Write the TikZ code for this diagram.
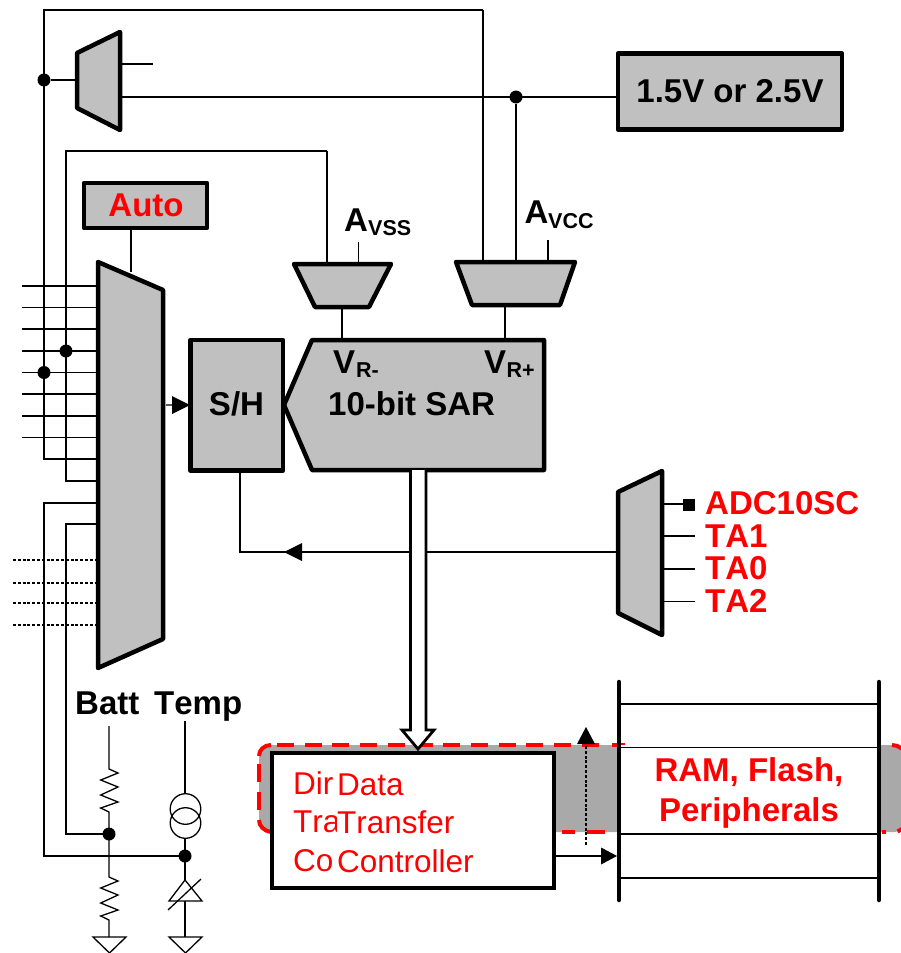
\documentclass[tikz,border=0pt]{standalone}
\usepackage{fontspec}
\setmainfont[Kerning=Off]{Liberation Sans}
\definecolor{blockgray}{HTML}{C0C0C0}
\definecolor{bandgray}{HTML}{A9A9A9}
\definecolor{pure}{HTML}{FF0000}
\tikzset{
  wire/.style={draw=black,line width=1.3pt},
  thick box/.style={draw=black,fill=blockgray,line width=4.5pt,line join=round},
  blockbox/.style={thick box,rectangle,inner sep=0pt,outer sep=0pt},
  junction/.style={circle,fill=black,inner sep=0pt,minimum size=13pt},
  blk/.style={font=\fontsize{33}{33}\selectfont\bfseries,inner sep=0pt,anchor=base west,text=black},
  sub/.style={font=\fontsize{21.5}{21.5}\selectfont\bfseries,inner sep=0pt,anchor=base west,text=black},
  redb/.style={font=\fontsize{33}{33}\selectfont\bfseries,inner sep=0pt,anchor=base west,text=pure},
  redc/.style={font=\fontsize{33}{33}\selectfont\bfseries,inner sep=0pt,anchor=base,text=pure},
  redt/.style={font=\fontsize{31.5}{31.5}\selectfont,inner sep=0pt,anchor=base west,text=pure},
  dots/.style={draw=black,line width=1.3pt,dash pattern=on 3pt off 1.8pt},
  tip/.style={fill=black},
  bar/.style={draw=black,line width=4.5pt,line cap=round},
  redline/.style={draw=pure,line width=4pt}
}
\begin{document}
\begin{tikzpicture}[x=1pt,y=-1pt]
\useasboundingbox (0,0) rectangle (901,953);
\clip (0,0) rectangle (901,953);

% named points
\coordinate (railA) at (44,10);
\coordinate (railAt) at (483,10);
\coordinate (railB) at (66,151);
\coordinate (railBt) at (327,151);

% band
\path[fill=bandgray,rounded corners=15pt] (259,745) rectangle (908,832);
\draw[redline,dash pattern=on 17pt off 10.7pt] (598.7,745) -- (277,745);
\draw[redline] (612,745) -- (625,745);
\draw[redline] (271,745) .. controls (264,745) and (259,750) .. (259,756);
\draw[redline] (259,764) -- (259,782);
\draw[redline] (259,792) -- (259,810);
\draw[redline] (259,820) .. controls (259,826) and (264,831) .. (271,832);
\draw[redline] (562,832) -- (575,832);
\draw[redline] (587,832) -- (605,832);
\fill[white] (619,745) rectangle (879,834);
\draw[redline] (892,745) arc[start angle=90,end angle=50,radius=15pt];
\draw[redline] (882,832) -- (885.5,832);
\draw[redline] (897.5,831.5) -- (902,829);

% rails
\draw[wire] (railAt) -- (railA) -- (44,459) -- (98,459);
\draw[wire] (railBt) -- (railB) -- (66,481) -- (98,481);
\draw[wire] (railAt) -- (483,262);
\draw[wire] (railBt) -- (327,264);

% input lines
\foreach \yy in {286,307.5,329,351,372.5,394,416,437.5}
  \draw[wire] (22,\yy) -- (98,\yy);
\foreach \yy in {560,583,603,625}
  \draw[dots] (13,\yy) -- (95,\yy);

% lower feeds
\draw[wire] (98,503) -- (44,503) -- (44,856) -- (185,856);
\draw[wire] (98,524) -- (66,524) -- (66,834) -- (109,834);

% top amp
\coordinate (ampIn) at (77,80);
\draw[thick box] (77,53) -- (120,32) -- (120,130) -- (77,108) -- cycle;
\node[junction] (dotTop) at (44,80) {};
\draw[wire] (dotTop) -- (ampIn);
\coordinate (stubEnd) at (153,64);
\draw[wire] (122,64) -- (stubEnd);

% reference box
\node[blockbox,minimum width=224pt,minimum height=76pt] (ref) at (730,91.5) {};
\node[font=\fontsize{33}{33}\selectfont\bfseries,inner sep=0pt] (reftxt) at (730,91) {1.5V or 2.5V};
\draw[wire] (122,97) -- (ref.west |- 0,97);
\node[junction] (dotRef) at (516,97) {};
\draw[wire] (dotRef) -- (516,262);

% auto
\node[blockbox,minimum width=123pt,minimum height=45pt] (auto) at (145.5,205.5) {};
\node[redb,anchor=base] (autotxt) at (146,216) {Auto};
\draw[wire] (131,228) -- (131,272);

% big mux
\draw[thick box] (98,262) -- (163,290) -- (163,639) -- (98,668) -- cycle;
\node[junction] (dotB) at (66,351) {};
\node[junction] (dotA) at (44,372.5) {};

% S/H
\node[blockbox,minimum width=92.5pt,minimum height=130.5pt] (sh) at (236.8,405.2) {};
\node[font=\fontsize{33}{33}\selectfont\bfseries,inner sep=0pt] (shtxt) at (236.5,404) {S/H};
\draw[wire] (166,405) -- (sh.west);
\fill[tip] (172,396) -- (190,405) -- (172,414) -- cycle;

% trigger line
\coordinate (trigCorner) at (240,552);
\draw[wire] (240,470) -- (trigCorner) -- (618,552);
\fill[tip] (284,552) -- (302,543) -- (302,561) -- cycle;

% SAR
\draw[thick box] (284,405) -- (312,340) -- (544,340) -- (544,470) -- (312,470) -- cycle;
\node[blk] (vrm) at (333,373) {V};
\node[sub] (vrms) at (356,377) {R-};
\node[blk] (vrp) at (484,373) {V};
\node[sub] (vrps) at (506.5,377) {R+};
\node[blk] (sar) at (328,415) {10-bit SAR};

% vss mux
\draw[thick box] (294,264) -- (391,264) -- (369,307) -- (315,307) -- cycle;
\draw[wire] (358.5,242) -- (358.5,264);
\draw[wire] (342,307) -- (342,340);
\node[blk] (avss) at (344,231) {A};
\node[sub] (avsss) at (368,235) {VSS};

% vcc mux
\draw[thick box] (456,262) -- (575,262) -- (560,305) -- (472,305) -- cycle;
\draw[wire] (548,240) -- (548,262);
\draw[wire] (505,305) -- (505,340);
\node[blk] (avcc) at (524.5,223) {A};
\node[sub] (avccs) at (548,228) {VCC};

% right mux
\draw[thick box] (618,492) -- (662,471) -- (662,635) -- (618,613) -- cycle;
\draw[wire] (664,504) -- (684,504);
\fill[black] (683,498.5) rectangle (695,510.5);
\foreach \yy in {536,569,601.5}
  \draw[wire] (664,\yy) -- (695,\yy);
\node[redb] (adc) at (705,514) {ADC10SC};
\node[redb] (ta1) at (705,547) {TA1};
\node[redb] (ta0) at (705,579) {TA0};
\node[redb] (ta2) at (705,612) {TA2};

% bus arrow
\draw[draw=black,fill=white,line width=2.8pt,line join=miter]
  (410.5,470) -- (410.5,730) -- (402,730) -- (418,749) -- (434,730) -- (426,730) -- (426,470);

% controller
\node[draw=black,fill=white,line width=4.5pt,minimum width=282pt,minimum height=135pt,inner sep=0pt,outer sep=0pt] (ctrl) at (413,820.5) {};
\begin{scope}
\clip (285,760) rectangle (336,885);
\node[redt] (d1) at (293,794) {Dir};
\node[redt] (d2) at (293,832) {Tra};
\node[redt] (d3) at (293,871) {Co};
\end{scope}
\node[redt] (d4) at (337,795) {Data};
\node[redt] (d5) at (337,833) {Transfer};
\node[redt] (d6) at (337,872) {Controller};

% dotted arrow
\draw[dots] (586,845) -- (586,740);
\fill[tip] (586,727) -- (595,744) -- (577,744) -- cycle;

% memory
\coordinate (barLt) at (619,682);
\coordinate (barLb) at (619,900);
\coordinate (barRt) at (879,682);
\coordinate (barRb) at (879,900);
\foreach \yy in {704,747.5,834,878}
  \draw[wire] (619,\yy) -- (879,\yy);
\draw[bar] (barLt) -- (barLb);
\draw[bar] (barRt) -- (barRb);
\draw[wire] (ctrl.east |- 0,856) -- (610,856);
\fill[tip] (601,847.5) -- (617,856) -- (601,864.5) -- cycle;
\node[redc] (ram) at (749,781) {RAM, Flash,};
\node[redc] (per) at (749,821) {Peripherals};

% batt
\node[blk] (batt) at (75,714) {Batt};
\node[blk] (temp) at (154,714) {Temp};
\coordinate (battTop) at (109,726);
\coordinate (r1a) at (109,769);
\coordinate (r1b) at (109,812);
\coordinate (r2a) at (109,877);
\coordinate (r2b) at (109,920);
\coordinate (gnd1) at (109,937);
\draw[wire] (battTop) -- (r1a) -- (118,773) -- (100.7,780) -- (118,787) -- (100.7,795) -- (118,802) -- (100.7,808) -- (r1b) -- (r2a)
  -- (118,881) -- (100.7,888) -- (118,895) -- (100.7,903) -- (118,910) -- (100.7,916) -- (r2b) -- (gnd1);
\node[junction] (dotBatt) at (109,834) {};
\draw[wire] (93,937) -- (126,937) -- (109.5,953) -- cycle;

% temp
\coordinate (tempTop) at (185,721);
\coordinate (gnd2) at (185,937);
\draw[wire] (tempTop) -- (185,794);
\draw[wire] (185.5,809) circle[radius=15.3pt];
\draw[wire] (185.5,823) circle[radius=15.3pt];
\draw[wire] (185,838) -- (185,880);
\node[junction] (dotTemp) at (185,856) {};
\draw[wire] (185,880) -- (202,901) -- (169,901) -- cycle;
\draw[wire] (168,910) -- (201,879);
\draw[wire] (185,901) -- (gnd2);
\draw[wire] (169,937) -- (202,937) -- (185.5,953) -- cycle;
\end{tikzpicture}
\end{document}
